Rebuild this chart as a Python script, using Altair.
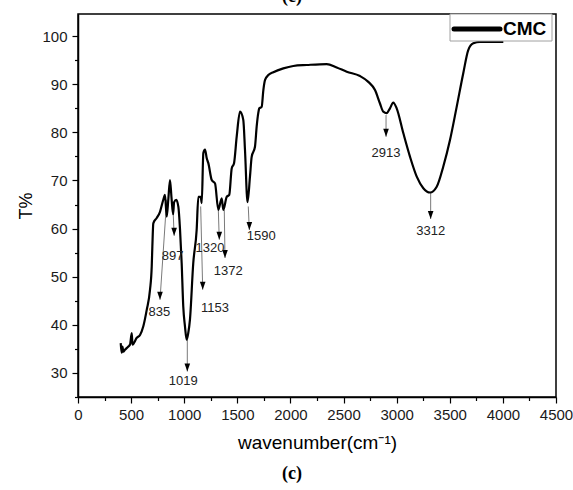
import altair as alt
import pandas as pd

# ---- spectrum ----
wavenumber = [402, 411, 419, 426, 442, 474, 490, 506, 513, 553, 584, 615, 647, 678, 694, 700,
              709, 741, 772, 803, 819, 835, 850, 866, 880, 895, 905, 925, 945, 960, 976, 991,
              1007, 1023, 1038, 1054, 1085, 1117, 1133, 1155, 1165, 1180, 1196, 1212, 1227,
              1259, 1290, 1321, 1353, 1368, 1400, 1424, 1447, 1469, 1494, 1525, 1556, 1572,
              1596, 1619, 1635, 1666, 1682, 1697, 1707, 1729, 1745, 1761, 1792, 1839, 1933,
              2027, 2153, 2341, 2435, 2530, 2655, 2733, 2796, 2843, 2874, 2906, 2937, 2968,
              3000, 3063, 3126, 3189, 3251, 3314, 3377, 3439, 3502, 3565, 3627, 3674, 3722,
              3785, 4004]
transmittance = [36.2, 34.2, 35.5, 34.4, 34.8, 35.5, 35.9, 38.3, 35.9, 37.3, 37.9, 39.7, 43.1,
                 47.3, 52.1, 56.3, 61.1, 62.2, 63.5, 66.0, 67.0, 62.5, 66.0, 70.1, 66.5, 63.0,
                 65.5, 66.0, 64.5, 60.0, 52.8, 43.8, 39.7, 36.9, 38.3, 41.1, 52.8, 59.7, 66.6,
                 66.6, 65.3, 75.7, 76.4, 74.6, 73.6, 70.1, 69.4, 63.9, 66.3, 63.9, 66.6, 67.0,
                 72.5, 73.6, 79.1, 84.3, 82.6, 76.4, 65.5, 70.8, 74.9, 77.0, 81.2, 84.0, 85.0,
                 85.3, 88.8, 90.9, 91.9, 92.5, 93.3, 93.8, 94.0, 94.2, 93.5, 92.6, 91.7, 90.5,
                 88.8, 86.0, 84.3, 84.0, 85.0, 86.2, 85.0, 79.8, 74.9, 70.8, 68.4, 67.5, 68.7,
                 72.9, 78.4, 85.3, 92.3, 97.1, 98.5, 98.8, 98.8]
series_name = ["CMC"]

# ---- peak annotations ----
peak_labels = ["835", "897", "1019", "1153", "1320", "1372", "1590", "2913", "3312"]
arrow_from_x = [835, 892, 1029, 1155, 1321, 1377, 1603, 2900, 3320]
arrow_from_y = [66.0, 65.5, 36.9, 64.6, 63.9, 63.9, 64.6, 83.6, 67.5]
arrow_to_x = [772, 905, 1029, 1174, 1330, 1384, 1613, 2900, 3320]
arrow_to_y = [45.2, 58.5, 30.3, 47.3, 57.7, 53.9, 59.7, 79.1, 62.0]
label_x = [765, 890, 990, 1290, 1243, 1415, 1725, 2900, 3320]
label_y = [42.6, 54.3, 28.3, 43.5, 55.9, 51.1, 58.4, 75.7, 59.6]

# ---- axes ----
x_ticks = list(range(0, 4501, 500))
x_minor = list(range(250, 4500, 500))
y_ticks = list(range(30, 101, 10))
y_minor = list(range(25, 100, 10))
x_domain = [0, 4500]
y_domain = [25, 104.6]

FONT = "Liberation Sans"

curve_df = pd.DataFrame({"wn": wavenumber, "T": transmittance})
ann_df = pd.DataFrame({"label": peak_labels, "x0": arrow_from_x, "y0": arrow_from_y,
                       "x1": arrow_to_x, "y1": arrow_to_y, "lx": label_x, "ly": label_y})
leg_df = pd.DataFrame({"series": series_name})

xs = alt.Scale(domain=x_domain, nice=False, zero=False)
ys = alt.Scale(domain=y_domain, nice=False, zero=False)

curve = alt.Chart(curve_df).mark_line(
    color="black", strokeWidth=2.2, strokeJoin="round", interpolate="monotone"
).encode(
    x=alt.X("wn:Q", scale=xs,
            axis=alt.Axis(values=x_ticks, orient="bottom", format="d", title="wavenumber(cm⁻¹)",
                          tickSize=6, labelPadding=4, labelFontSize=15, titleFontSize=19,
                          titlePadding=11, labelFlush=False)),
    y=alt.Y("T:Q", scale=ys,
            axis=alt.Axis(values=y_ticks, orient="left", format="d", title="T%",
                          tickSize=6, labelPadding=5, labelFontSize=15, titleFontSize=18,
                          titlePadding=6)),
)

arrows = alt.Chart(ann_df).mark_rule(color="#7a7a7a", strokeWidth=1).encode(
    x=alt.X("x0:Q", scale=xs,
            axis=alt.Axis(values=x_minor, orient="bottom", labels=False, domain=False,
                          tickSize=3.5, title="")),
    y=alt.Y("y0:Q", scale=ys,
            axis=alt.Axis(values=y_minor, orient="left", labels=False, domain=False,
                          tickSize=3.5, title="")),
    x2="x1:Q",
    y2="y1:Q",
)

heads = alt.Chart(ann_df).mark_point(
    shape="M-0.35,-1L0.35,-1L0,0Z", size=256, filled=True, color="black", opacity=1
).encode(
    x=alt.X("x1:Q", scale=xs, axis=None),
    y=alt.Y("y1:Q", scale=ys, axis=None),
)

labels = alt.Chart(ann_df).mark_text(
    font=FONT, fontSize=13, color="#222222", align="center", baseline="middle"
).encode(
    x=alt.X("lx:Q", scale=xs, axis=None),
    y=alt.Y("ly:Q", scale=ys, axis=None),
    text="label:N",
)

legend_box = alt.Chart(leg_df).mark_rect(fill="white", stroke="#a0a0a0", strokeWidth=1).encode(
    x=alt.value(372), x2=alt.value(474), y=alt.value(0), y2=alt.value(27)
)
legend_line = alt.Chart(leg_df).mark_rule(color="black", strokeWidth=5, strokeCap="round").encode(
    x=alt.value(376), x2=alt.value(422), y=alt.value(15)
)
legend_text = alt.Chart(leg_df).mark_text(
    font=FONT, fontSize=19, fontWeight="bold", color="black", align="left", baseline="middle"
).encode(x=alt.value(425), y=alt.value(15), text="series:N")

cap_bottom = alt.Chart(leg_df).mark_text(
    font="Liberation Serif", fontSize=18, fontWeight="bold", color="black",
    align="center", baseline="middle"
).encode(x=alt.value(214), y=alt.value(460), text=alt.value("(c)"))
cap_top = alt.Chart(leg_df).mark_text(
    font="Liberation Serif", fontSize=18, fontWeight="bold", color="black",
    align="center", baseline="alphabetic"
).encode(x=alt.value(214), y=alt.value(-12), text=alt.value("(c)"))

chart = alt.layer(
    arrows, curve, heads, labels, legend_box, legend_line, legend_text, cap_bottom, cap_top
).resolve_axis(x="independent", y="independent").properties(
    width=478, height=383,
    padding={"left": 78, "top": 14, "right": 17, "bottom": 93},
    autosize=alt.AutoSizeParams(type="none"),
).configure_view(
    stroke="black", strokeWidth=1.5
).configure_axis(
    domainColor="black", domainWidth=1.5, tickColor="black", tickWidth=1.2,
    labelColor="#1a1a1a", labelFont=FONT, titleFont=FONT, titleColor="black",
    titleFontWeight="normal", grid=False,
)

chart.save("out.html", embed_options={"renderer": "svg", "actions": False})
